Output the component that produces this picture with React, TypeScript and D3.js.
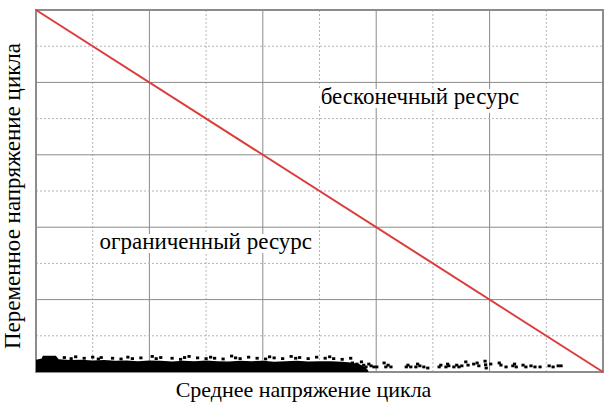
import React from 'react';
import * as d3 from 'd3';

// grid lines (integer steps, even = solid, odd = dotted)
const gridValues = [0, 1, 2, 3, 4, 5, 6, 7, 8, 9, 10];

// limit line: amplitude vs mean stress
const limitLine: [number, number][] = [[0, 10], [10, 0]];

// dense band of test points along the bottom (top envelope)
const bandX = [0, 0.1, 0.12, 0.35, 0.4, 0.6, 0.8, 1.0, 1.2, 1.4, 1.6, 1.8, 2.0, 2.2, 2.4, 2.6, 2.8, 3.0, 3.2, 3.4, 3.6, 3.8, 4.0, 4.2, 4.4, 4.6, 4.8, 5.0, 5.2, 5.4, 5.55, 5.7, 5.8, 5.86];
const bandTop = [0.34, 0.37, 0.45, 0.45, 0.35, 0.33, 0.34, 0.32, 0.33, 0.31, 0.32, 0.3, 0.32, 0.31, 0.29, 0.31, 0.3, 0.32, 0.3, 0.29, 0.31, 0.3, 0.31, 0.28, 0.3, 0.31, 0.29, 0.3, 0.3, 0.28, 0.26, 0.22, 0.14, 0.04];

// loose points above the band
const topDots: [number, number][] = [
  [0.5, 0.4], [0.62, 0.37], [0.7, 0.42], [0.85, 0.38], [1.0, 0.41], [1.1, 0.36], [1.15, 0.4], [1.35, 0.38],
  [1.5, 0.36], [1.62, 0.41], [1.7, 0.37], [1.85, 0.39], [2.05, 0.43], [2.12, 0.37], [2.2, 0.4], [2.4, 0.38],
  [2.55, 0.35], [2.62, 0.4], [2.7, 0.43], [2.85, 0.39], [3.0, 0.37], [3.08, 0.41], [3.15, 0.38], [3.3, 0.36],
  [3.45, 0.44], [3.52, 0.39], [3.6, 0.37], [3.75, 0.41], [3.9, 0.38], [4.05, 0.36], [4.12, 0.42], [4.2, 0.39],
  [4.35, 0.37], [4.5, 0.43], [4.58, 0.38], [4.65, 0.4], [4.8, 0.37], [4.95, 0.41], [5.1, 0.38], [5.18, 0.42],
  [5.25, 0.37], [5.4, 0.35], [5.55, 0.38]
];

// sparse points toward higher mean stress
const sparseDots: [number, number][] = [
  [5.43, 0.19], [5.5, 0.14], [5.58, 0.25], [5.62, 0.17], [5.66, 0.22], [5.7, 0.12], [5.74, 0.28], [5.78, 0.19],
  [5.82, 0.14], [5.87, 0.22], [5.91, 0.17], [5.96, 0.14], [6.01, 0.14], [6.14, 0.25], [6.17, 0.14], [6.21, 0.19],
  [6.26, 0.14], [6.53, 0.14], [6.56, 0.19], [6.61, 0.14], [6.7, 0.14], [6.73, 0.22], [6.77, 0.17], [6.84, 0.14],
  [6.91, 0.11], [7.11, 0.14], [7.14, 0.19], [7.23, 0.14], [7.26, 0.22], [7.28, 0.17], [7.37, 0.14], [7.42, 0.19],
  [7.46, 0.14], [7.51, 0.17], [7.58, 0.28], [7.62, 0.19], [7.72, 0.22], [7.78, 0.25], [7.81, 0.17], [7.92, 0.3],
  [7.93, 0.2], [7.94, 0.11], [8.02, 0.22], [8.17, 0.25], [8.2, 0.19], [8.29, 0.14], [8.41, 0.17], [8.44, 0.22],
  [8.47, 0.14], [8.59, 0.19], [8.64, 0.14], [8.73, 0.17], [8.8, 0.14], [8.89, 0.14], [9.05, 0.17], [9.12, 0.14],
  [9.21, 0.17], [9.26, 0.17]
];

const xTitle = 'Среднее напряжение цикла';
const yTitle = 'Переменное напряжение цикла';
const zoneLabels = [
  { text: 'бесконечный ресурс', x: 5.02, y: 7.4 },
  { text: 'ограниченный ресурс', x: 1.12, y: 3.4 }
];

const W = 614;
const H = 404;
const font = '"Liberation Serif", "Times New Roman", serif';

export default function App() {
  const x = d3.scaleLinear().domain([0, 10]).range([36, 603]);
  const y = d3.scaleLinear().domain([0, 10]).range([372, 10]);

  const band = d3.area<number>()
    .x((d, i) => x(bandX[i]))
    .y0(() => y(0))
    .y1((d) => y(d));

  const line = d3.line<[number, number]>()
    .x((d) => x(d[0]))
    .y((d) => y(d[1]));

  return (
    <svg width={W} height={H} style={{ position: 'absolute', left: 0, top: 0, background: '#fff' }}>
      <g>
        {gridValues.slice(1, -1).map((v) => (
          <line key={'gx' + v} x1={x(v)} x2={x(v)} y1={y(0)} y2={y(10)}
            stroke={v % 2 === 0 ? '#8a8a8a' : '#b4b4b4'}
            strokeDasharray={v % 2 === 0 ? undefined : '2,2'} strokeWidth={1} />
        ))}
        {gridValues.slice(1, -1).map((v) => (
          <line key={'gy' + v} x1={x(0)} x2={x(10)} y1={y(v)} y2={y(v)}
            stroke={v % 2 === 0 ? '#8a8a8a' : '#b4b4b4'}
            strokeDasharray={v % 2 === 0 ? undefined : '2,2'} strokeWidth={1} />
        ))}
      </g>

      {zoneLabels.map((l) => (
        <text key={l.text} x={x(l.x)} y={y(l.y)} fontFamily={font} fontSize={23} fill="#000"
          stroke="#fff" strokeWidth={8} paintOrder="stroke" strokeLinejoin="round">{l.text}</text>
      ))}

      <rect x={x(0)} y={y(10)} width={x(10) - x(0)} height={y(0) - y(10)}
        fill="none" stroke="#8c8c8c" strokeWidth={2} />

      <path d={line(limitLine) || ''} stroke="#dc3c3c" strokeWidth={2} fill="none" />

      <path d={band(bandTop) || ''} fill="#000" />
      {topDots.concat(sparseDots).map((d, i) => (
        <rect key={i} x={x(d[0]) - 1.6} y={y(d[1]) - 1.4} width={3.2} height={2.8} fill="#000" />
      ))}

      <text x={x(5) - 16} y={397} textAnchor="middle" fontFamily={font} fontSize={22} fill="#000">{xTitle}</text>
      <text transform={`translate(20,${196}) rotate(-90)`} textAnchor="middle" fontFamily={font} fontSize={23} fill="#000">{yTitle}</text>
    </svg>
  );
}
